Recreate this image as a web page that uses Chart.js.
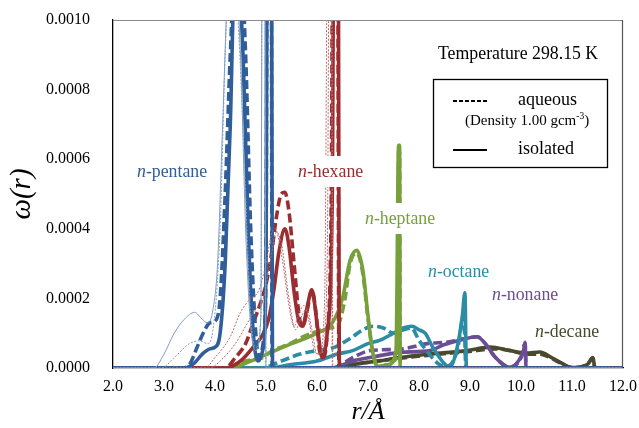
<!DOCTYPE html>
<html><head><meta charset="utf-8">
<script src="https://cdn.jsdelivr.net/npm/chart.js@4"></script>
<style>html,body{margin:0;padding:0;background:#fff}#wrap{width:639px;height:428px}</style>
</head><body><div id="wrap"><canvas id="c" width="639" height="428"></canvas></div>
<script>
// ---- data (r in Å, omega(r)) ----
const xTicks = [2,3,4,5,6,7,8,9,10,11,12];
const yTicks = [0,0.0002,0.0004,0.0006,0.0008,0.0010];

const pentThinAR = [2.0,2.8,3.0,3.2,3.4,3.6,3.75,3.85,3.95,4.05,4.15,4.25,4.35,4.5,4.6,4.7,4.8,4.9,4.93,4.97,5.0,12.0];
const pentThinAW = [0,0,0.00004,0.0001,0.00014,0.00016,0.00014,0.00013,0.00016,0.0003,0.0007,0.0011,0.0012,0.0009,0.0004,0.00012,0.00005,0.00015,0.0015,0.0015,0,0];
const pentThinBR = [2.0,2.95,3.2,3.5,3.7,3.85,3.95,4.1,4.2,4.3,4.45,4.6,4.7,4.8,4.9,4.93,4.97,5.0,12.0];
const pentThinBW = [0,0,0.00003,0.00007,0.000078,0.00007,0.0001,0.0004,0.0009,0.0012,0.001,0.0005,0.00015,0.00006,0.00015,0.0015,0.0015,0,0];
const pentAqR = [2.0,3.35,3.5,3.65,3.8,3.9,4.0,4.1,4.2,4.3,4.45,4.6,4.7,4.8,4.88,4.95,5.0,5.03,5.1,5.12,12.0];
const pentAqW = [0,0,0.00001,0.00006,0.00011,0.00013,0.000135,0.0002,0.0005,0.0009,0.0013,0.0009,0.0004,0.0001,0.00003,0.00008,0.0003,0.0016,0.0016,0,0];
const pentIsR = [2.0,3.4,3.6,3.75,3.9,4.0,4.1,4.2,4.3,4.4,4.55,4.65,4.75,4.85,4.95,5.0,5.03,5.1,5.13,12.0];
const pentIsW = [0,0,0.000015,0.00004,0.000055,0.00006,0.0001,0.0003,0.0007,0.0012,0.0009,0.0004,0.0001,0.00002,0.00006,0.0003,0.0016,0.0016,0,0];

const hexThinR = [2.0,3.8,4.0,4.3,4.5,4.7,4.85,5.0,5.1,5.18,5.3,5.45,5.55,5.65,5.75,5.85,5.95,6.05,6.15,6.22,6.28,6.3,12.0];
const hexThinW = [0,0,0.00003,0.00009,0.00016,0.0002,0.00022,0.0003,0.00038,0.0004,0.00033,0.00018,0.00012,0.00016,0.00018,0.00013,0.00005,0.00004,0.0002,0.0015,0.0015,0,0];
const hexThin2R = [2.0,3.9,4.1,4.4,4.6,4.8,4.95,5.1,5.2,5.3,5.45,5.58,5.7,5.8,5.9,6.0,6.1,6.2,6.25,6.29,6.31,12.0];
const hexThin2W = [0,0,0.00002,0.00007,0.00012,0.00017,0.0002,0.00032,0.00039,0.00036,0.0002,0.00011,0.00015,0.00017,0.00011,0.00004,0.00005,0.0003,0.0015,0.0015,0,0];
const hexAqR = [2.0,4.2,4.4,4.6,4.75,4.9,5.0,5.1,5.2,5.3,5.37,5.45,5.55,5.65,5.72,5.8,5.9,5.97,6.05,6.12,6.2,6.28,6.32,6.4,6.43,12.0];
const hexAqW = [0,0,0.00003,0.00007,0.00013,0.00019,0.00024,0.00032,0.00043,0.0005,0.000505,0.00045,0.0003,0.00015,0.00012,0.00016,0.000225,0.00017,0.00005,0.00003,0.0001,0.0005,0.0016,0.0016,0,0];
const hexIsR = [2.0,4.2,4.5,4.75,4.95,5.05,5.15,5.25,5.37,5.45,5.55,5.65,5.72,5.8,5.9,6.0,6.1,6.2,6.3,6.34,6.41,6.44,12.0];
const hexIsW = [0,0,0.00002,0.00006,0.0001,0.00014,0.00022,0.00033,0.0004,0.00035,0.00022,0.00013,0.00012,0.00017,0.000225,0.00013,0.00003,0.0001,0.0005,0.0016,0.0016,0,0];

const hepAqR = [2.0,4.3,4.6,4.94,5.08,5.47,5.73,6.0,6.25,6.41,6.55,6.65,6.78,6.9,7.0,7.1,7.2,7.5,7.58,7.6,7.62,7.63,12.0];
const hepAqW = [0,0,0.00002,0.00003,0.000046,0.00007,0.00009,0.000105,0.000115,0.000124,0.0002,0.0003,0.00033,0.00027,0.00014,0.00004,0,0.00002,0.00005,0.00062,0.00062,0,0];
const hepIsR = [2.0,4.3,4.7,5.1,5.5,6.0,6.3,6.5,6.65,6.78,6.9,7.0,7.1,7.2,7.4,7.55,7.6,7.62,7.63,12.0];
const hepIsW = [0,0,0.00002,0.000045,0.00007,0.0001,0.00013,0.0002,0.00031,0.000338,0.00028,0.00015,0.00004,0.000005,0.00001,0.00005,0.00064,0.00064,0,0];

const octAqR = [2.0,4.9,5.3,5.67,6.0,6.35,6.7,6.9,7.1,7.3,7.5,7.7,7.85,8.0,8.2,8.4,8.55,8.75,8.88,8.92,12.0];
const octAqW = [0,0,0.00002,0.00004,0.00005,0.00006,0.00009,0.00011,0.00012,0.000115,0.0001,0.00011,0.000115,0.00008,0.00004,0.00001,0.000005,0.00005,0.00015,0,0];
const octIsR = [2.0,5.0,5.5,6.0,6.4,6.7,7.0,7.24,7.5,7.69,7.86,8.0,8.12,8.27,8.47,8.6,8.75,8.85,8.9,8.93,12.0];
const octIsW = [0,0,0.00001,0.00002,0.00004,0.00005,0.00007,0.00008,0.0001,0.000115,0.00012,0.00011,0.0001,0.00006,0.000017,0.000002,0.00006,0.00015,0.000216,0,0];

const nonAqR = [2.0,6.3,6.7,7.04,7.63,8.16,8.6,8.94,9.14,9.3,9.5,9.78,10.0,10.08,10.1,12.0];
const nonAqW = [0,0,0.00003,0.00005,0.000054,0.00007,0.000075,0.000086,0.00009,0.00007,0.00003,0.000002,0.00003,0.00007,0,0];
const nonIsR = [2.0,6.3,6.7,7.04,7.63,8.22,8.47,8.8,9.14,9.3,9.5,9.78,9.95,10.05,10.08,10.1,12.0];
const nonIsW = [0,0,0.00002,0.00003,0.000045,0.00005,0.000066,0.00008,0.00009,0.00007,0.00003,0.000002,0.00002,0.00005,0.000074,0,0];

const decAqR = [2.0,6.4,6.7,7.2,7.63,8.2,8.94,9.5,9.8,10.1,10.37,10.6,10.76,11.0,11.3,11.41,11.45,12.0];
const decAqW = [0,0,0.00001,0.00002,0.000028,0.000037,0.000047,0.000055,0.00005,0.00004,0.00004,0.000028,0.000015,0.000001,0.00001,0.000028,0,0];
const decIsR = [2.0,6.4,6.7,7.2,7.63,8.2,8.94,9.4,9.78,10.1,10.37,10.6,10.76,11.0,11.3,11.41,11.45,12.0];
const decIsW = [0,0,0.00001,0.00002,0.00003,0.00004,0.00005,0.00006,0.00005,0.000043,0.000046,0.00003,0.000017,0.000001,0.00001,0.00003,0,0];

const colors = {pent:'#2F5E99', pentLight:'#7F9DC8', hex:'#9B2D30', hexLight:'#B96A6C', hep:'#77A03B', oct:'#2B8CA6', non:'#6A4D96', dec:'#4A492C'};

function pts(r, w){ return r.map((v,i)=>({x:v, y:w[i]})); }
function ds(r,w,color,width,dash){ return {data:pts(r,w), borderColor:color, borderWidth:width, borderDash:dash||[], pointRadius:0, showLine:true, fill:false, cubicInterpolationMode:'monotone'}; }

const THICK = 3.6, DASH = [9,4];
const datasets = [
  ds(pentThinAR,pentThinAW,colors.pentLight,1),
  ds(pentThinBR,pentThinBW,colors.pentLight,1,[2,1.5]),
  ds(hexThinR,hexThinW,colors.hexLight,1,[2,1.5]),
  ds(hexThin2R,hexThin2W,colors.hexLight,1,[2,1.5]),
  ds(pentIsR,pentIsW,colors.pent,THICK),
  ds(pentAqR,pentAqW,colors.pent,THICK,DASH),
  ds(hexIsR,hexIsW,colors.hex,THICK),
  ds(hexAqR,hexAqW,colors.hex,THICK,DASH),
  ds(hepIsR,hepIsW,colors.hep,THICK),
  ds(hepAqR,hepAqW,colors.hep,THICK,DASH),
  ds(octIsR,octIsW,colors.oct,THICK),
  ds(octAqR,octAqW,colors.oct,THICK,DASH),
  ds(nonIsR,nonIsW,colors.non,THICK),
  ds(nonAqR,nonAqW,colors.non,THICK,DASH),
  ds(decAqR,decAqW,colors.dec,THICK,DASH),
  ds(decIsR,decIsW,colors.dec,THICK)
];

const SERIF = '"Liberation Serif","Times New Roman",serif';
const labels = [
  {name:'pentane', x:137, y:172, color:colors.pent},
  {name:'hexane', x:298, y:172, color:colors.hex},
  {name:'heptane', x:365, y:219, color:colors.hep},
  {name:'octane', x:428, y:272, color:colors.oct},
  {name:'nonane', x:492, y:295, color:colors.non},
  {name:'decane', x:535, y:332, color:colors.dec}
];

const overlay = {
  id:'overlay',
  afterDraw(chart){
    const ctx = chart.ctx, a = chart.chartArea;
    ctx.save();
    ctx.lineWidth = 1.2;
    ctx.strokeStyle = '#8a8a8a';
    ctx.beginPath(); ctx.moveTo(a.left, a.top+0.5); ctx.lineTo(a.right, a.top+0.5); ctx.stroke();
    ctx.strokeStyle = '#555';
    ctx.beginPath(); ctx.moveTo(a.right-0.5, a.top); ctx.lineTo(a.right-0.5, a.bottom); ctx.stroke();
    ctx.textBaseline = 'middle';
    const LF = '17.8px ';
    labels.forEach(l=>{
      ctx.font = 'italic '+LF+SERIF;
      const w1 = ctx.measureText('n').width;
      ctx.font = LF+SERIF;
      const w2 = ctx.measureText('-'+l.name).width;
      ctx.fillStyle = '#fff';
      ctx.fillRect(l.x-3, l.y-16, w1+w2+6, 31);
      ctx.fillStyle = l.color;
      ctx.font = 'italic '+LF+SERIF;
      ctx.fillText('n', l.x, l.y);
      ctx.font = LF+SERIF;
      ctx.fillText('-'+l.name, l.x+w1, l.y);
    });
    ctx.fillStyle = '#000';
    ctx.font = '17.8px '+SERIF;
    ctx.textAlign = 'left';
    ctx.fillText('Temperature 298.15 K', 438, 54);
    ctx.strokeStyle = '#000'; ctx.lineWidth = 1.3;
    ctx.strokeRect(433.5, 79.5, 174, 88);
    ctx.lineWidth = 2.2;
    ctx.setLineDash([4,2]);
    ctx.beginPath(); ctx.moveTo(453, 101); ctx.lineTo(487, 101); ctx.stroke();
    ctx.setLineDash([]);
    ctx.beginPath(); ctx.moveTo(453, 150); ctx.lineTo(487, 150); ctx.stroke();
    ctx.font = '18px '+SERIF;
    ctx.fillText('aqueous', 518, 100);
    ctx.fillText('isolated', 518, 149);
    ctx.font = '15px '+SERIF;
    const t1 = '(Density 1.00 gcm';
    ctx.fillText(t1, 465, 121);
    let wx = 465 + ctx.measureText(t1).width;
    ctx.font = '9.5px '+SERIF;
    ctx.fillText('-3', wx, 116);
    wx += ctx.measureText('-3').width;
    ctx.font = '15px '+SERIF;
    ctx.fillText(')', wx, 121);
    ctx.restore();
  }
};

new Chart(document.getElementById('c'), {
  type:'scatter',
  data:{datasets},
  plugins:[overlay],
  options:{
    responsive:false, animation:false, devicePixelRatio:1,
    layout:{autoPadding:false, padding:{left:0, right:16, top:20, bottom:0}},
    plugins:{legend:{display:false}, tooltip:{enabled:false}},
    scales:{
      x:{
        type:'linear', min:2, max:12,
        afterFit(s){ s.height = 60; s.paddingLeft = 0; s.paddingRight = 0; },
        afterBuildTicks(s){ s.ticks = xTicks.map(v=>({value:v})); },
        grid:{display:false, drawTicks:false},
        border:{display:true, color:'#000', width:1.3},
        ticks:{padding:9, color:'#000', font:{family:SERIF, size:16}, callback:v=>v.toFixed(1), maxRotation:0, autoSkip:false},
        title:{display:true, text:'r/Å', color:'#000', font:{family:SERIF, size:26, style:'italic'}, padding:{top:3,bottom:0}}
      },
      y:{
        type:'linear', min:0, max:0.001,
        afterFit(s){ s.width = 113; s.paddingTop = 0; s.paddingBottom = 0; },
        afterBuildTicks(s){ s.ticks = yTicks.map(v=>({value:v})); },
        grid:{display:false, drawTicks:false},
        border:{display:true, color:'#000', width:1.3},
        ticks:{padding:23, color:'#000', font:{family:SERIF, size:16}, callback:v=>v.toFixed(4)},
        title:{display:true, text:'ω(r)', color:'#000', font:{family:SERIF, size:29, style:'italic'}, padding:{top:5,bottom:0}}
      }
    }
  }
});
</script></body></html>
